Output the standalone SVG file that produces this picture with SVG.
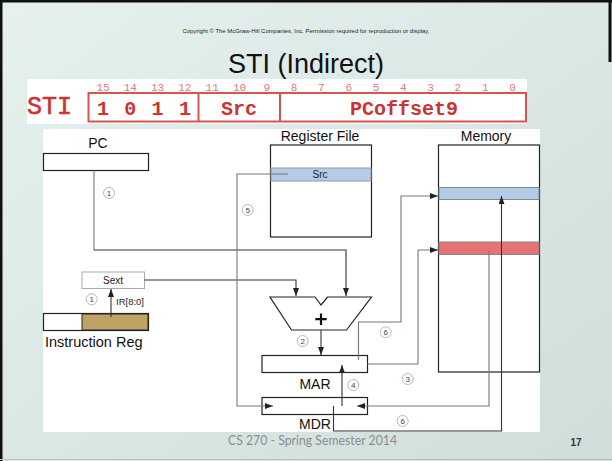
<svg xmlns="http://www.w3.org/2000/svg" width="612" height="461" viewBox="0 0 612 461">
<defs>
<linearGradient id="bg" x1="0" y1="0" x2="1" y2="1">
<stop offset="0" stop-color="#e6f1ee"/>
<stop offset="1" stop-color="#cfdedb"/>
</linearGradient>
<marker id="ah" viewBox="0 0 8 6" refX="8" refY="3" markerWidth="8" markerHeight="6" markerUnits="userSpaceOnUse" orient="auto">
<path d="M0,0 L8,3 L0,6 z" fill="#222"/>
</marker>
</defs>
<style>
.sans{font-family:"Liberation Sans",Arial,sans-serif}
.mono{font-family:"Liberation Mono","Courier New",monospace}
.bitn{font-family:"Liberation Mono","Courier New",monospace;font-size:11px;fill:#e07a7a;text-anchor:middle}
.bitv{font-family:"Liberation Mono","Courier New",monospace;font-size:20px;font-weight:bold;fill:#cc3333;text-anchor:middle}
.box{fill:#fff;stroke:#222;stroke-width:1.2}
.lbl{font-family:"Liberation Sans",Arial,sans-serif;font-size:14px;fill:#111;text-anchor:middle}
.w{fill:none;stroke:#333;stroke-width:1.1}
.wg{fill:none;stroke:#777;stroke-width:1.1}
.step circle{fill:#fff;stroke:#999;stroke-width:0.7}
.step text{font-family:"Liberation Sans",Arial,sans-serif;font-size:8px;fill:#444;text-anchor:middle}
</style>
<rect x="0" y="0" width="612" height="461" fill="url(#bg)"/>
<path d="M1,0 V461 M0,1 H612 M610,0 V62" stroke="#111" stroke-width="3" fill="none"/>
<path d="M0,459.5 H612" stroke="#b5c2bf" stroke-width="1"/>

<text x="306" y="33" class="sans" font-size="5.5" fill="#222" text-anchor="middle" textLength="247" lengthAdjust="spacingAndGlyphs">Copyright © The McGraw-Hill Companies, Inc.  Permission required for reproduction or display.</text>
<text id="title" x="306" y="73" class="sans" font-size="27" fill="#111" text-anchor="middle">STI (Indirect)</text>

<g id="instruction-format">
<rect x="27" y="79" width="500" height="45" fill="#fff"/>
<text x="27" y="114" class="mono" font-size="25" fill="#cc3333" stroke="#cc3333" stroke-width="0.6">STI</text>
<rect x="88.5" y="93" width="437.5" height="28.5" fill="none" stroke="#d9534f" stroke-width="2"/>
<line x1="198.5" y1="93" x2="198.5" y2="121.5" stroke="#d9534f" stroke-width="2"/>
<line x1="280" y1="93" x2="280" y2="121.5" stroke="#d9534f" stroke-width="2"/>
<text class="bitn" y="91"><tspan x="103">15</tspan><tspan x="130.3">14</tspan><tspan x="157.6">13</tspan><tspan x="184.9">12</tspan><tspan x="212.2">11</tspan><tspan x="239.5">10</tspan><tspan x="266.8">9</tspan><tspan x="294.1">8</tspan><tspan x="321.4">7</tspan><tspan x="348.7">6</tspan><tspan x="376">5</tspan><tspan x="403.3">4</tspan><tspan x="430.6">3</tspan><tspan x="457.9">2</tspan><tspan x="485.2">1</tspan><tspan x="512.5">0</tspan></text>
<text class="bitv" y="115"><tspan x="103">1</tspan><tspan x="130.3">0</tspan><tspan x="157.6">1</tspan><tspan x="184.9">1</tspan></text>
<text class="bitv" x="239" y="115">Src</text>
<text class="bitv" x="404" y="115">PCoffset9</text>
</g>

<rect x="43" y="129" width="497" height="303" fill="#fff"/>

<g id="pc">
<rect class="box" x="43.5" y="153.5" width="105" height="17"/>
<text class="lbl" x="98" y="148">PC</text>
</g>

<g id="register-file">
<rect class="box" x="270.5" y="145" width="101" height="92"/>
<rect x="271" y="168" width="100" height="13" fill="#b3cde8" stroke="#999" stroke-width="1"/>
<text class="sans" x="320" y="178" font-size="10" fill="#222" text-anchor="middle">Src</text>
<text class="lbl" x="320" y="141">Register File</text>
</g>

<g id="memory">
<rect class="box" x="438.5" y="145" width="101" height="227"/>
<rect x="439" y="187.5" width="100" height="12" fill="#b3cde8" stroke="#888" stroke-width="1"/>
<rect x="439" y="242" width="100" height="12.5" fill="#e57373" stroke="#888" stroke-width="1"/>
<text class="lbl" x="486" y="141">Memory</text>
</g>

<g id="sext">
<rect x="82" y="272" width="62.5" height="16.5" fill="#fff" stroke="#aaa" stroke-width="1"/>
<text class="sans" x="113" y="284" font-size="10" fill="#222" text-anchor="middle">Sext</text>
</g>

<g id="instruction-reg">
<rect class="box" x="43.5" y="313.5" width="105" height="17"/>
<rect x="82" y="314" width="66" height="16" fill="#bfa265" stroke="#222" stroke-width="1"/>
<text class="sans" x="45" y="347" font-size="14.5" fill="#111">Instruction Reg</text>
</g>

<g id="adder">
<path d="M270,297 H315 L321,305 L327.5,297 H371.5 L346.5,330 H291.5 Z" fill="#fff" stroke="#222" stroke-width="1.2"/>
<path d="M321,313.5 V325 M315.3,319.2 H326.7" stroke="#111" stroke-width="2.2"/>
</g>

<g id="mar">
<rect class="box" x="262" y="355.5" width="105.5" height="17"/>
<text class="lbl" x="315" y="389">MAR</text>
</g>

<g id="mdr">
<rect class="box" x="262" y="397.5" width="105.5" height="17"/>
<text class="lbl" x="315" y="429">MDR</text>
</g>

<g id="connectors">
<path class="wg" d="M94,170.5 V250"/>
<path class="w" d="M94,250 H346 V296" marker-end="url(#ah)"/>
<path class="w" d="M144.5,280 H296 V296" marker-end="url(#ah)"/>
<path class="w" d="M111,317 V289" marker-end="url(#ah)"/>
<path class="wg" d="M288,174 H237 V406 H273" marker-end="url(#ah)"/>
<path class="w" d="M321,330 V355" marker-end="url(#ah)"/>
<path class="w" d="M342,406 V365" marker-end="url(#ah)"/>
<path class="wg" d="M358.5,360 V322 H401 V196 H438" marker-end="url(#ah)"/>
<path class="wg" d="M367.5,364 H418 V250 H438" marker-end="url(#ah)"/>
<path class="wg" d="M489,251 V406 H357" marker-end="url(#ah)"/>
<path class="w" d="M333.5,406 V431 H501.5 V196" marker-end="url(#ah)"/>
</g>

<g id="step-labels">
<text class="sans" x="116" y="305" font-size="9.5" fill="#222">IR[8:0]</text>
<g class="step"><circle cx="109" cy="193" r="5.5"/><text x="109" y="196">1</text></g>
<g class="step"><circle cx="91.7" cy="299.3" r="5.5"/><text x="91.7" y="302.3">1</text></g>
<g class="step"><circle cx="247.7" cy="210" r="5.5"/><text x="247.7" y="213">5</text></g>
<g class="step"><circle cx="302.7" cy="341" r="5.5"/><text x="302.7" y="344">2</text></g>
<g class="step"><circle cx="385.7" cy="332.3" r="5.5"/><text x="385.7" y="335.3">6</text></g>
<g class="step"><circle cx="407.7" cy="379" r="5.5"/><text x="407.7" y="382">3</text></g>
<g class="step"><circle cx="353.3" cy="385" r="5.5"/><text x="353.3" y="388">4</text></g>
<g class="step"><circle cx="402.7" cy="421" r="5.5"/><text x="402.7" y="424">6</text></g>
</g>

<text x="228" y="445" font-family="Lato,'Open Sans',sans-serif" font-size="13" fill="#8c8c8c" textLength="169" lengthAdjust="spacingAndGlyphs">CS 270 - Spring Semester 2014</text>
<text x="576" y="446" class="sans" font-size="10" font-weight="bold" fill="#333" text-anchor="middle">17</text>
</svg>
